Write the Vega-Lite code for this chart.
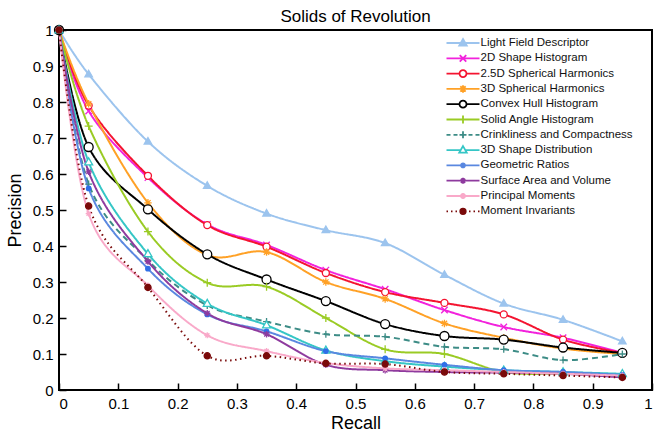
{
  "$schema": "https://vega.github.io/schema/vega-lite/v6.json",
  "width": 593,
  "height": 360,
  "autosize": {"type": "none"},
  "padding": {"left": 59, "top": 30, "right": 5, "bottom": 45},
  "title": {"text": "Solids of Revolution", "fontSize": 17, "fontWeight": "normal", "font": "Liberation Sans", "color": "#000", "offset": -3, "anchor": "middle"},
  "config": {
    "view": {"stroke": "#000", "strokeWidth": 2},
    "font": "Liberation Sans",
    "axis": {"grid": false, "domain": false, "tickColor": "#000", "tickWidth": 1.5, "tickSize": -7, "labelPadding": 13, "labelFontSize": 15, "labelColor": "#000", "titleFontSize": 18, "titleFontWeight": "normal", "titleColor": "#000", "labelFont": "Liberation Sans", "titleFont": "Liberation Sans"}
  },
  "data": {"values": [
    {"series": "Light Field Descriptor", "recall": 0, "precision": 1},
    {"series": "Light Field Descriptor", "recall": 0.05, "precision": 0.877},
    {"series": "Light Field Descriptor", "recall": 0.15, "precision": 0.69},
    {"series": "Light Field Descriptor", "recall": 0.25, "precision": 0.567},
    {"series": "Light Field Descriptor", "recall": 0.35, "precision": 0.49},
    {"series": "Light Field Descriptor", "recall": 0.45, "precision": 0.444},
    {"series": "Light Field Descriptor", "recall": 0.55, "precision": 0.408},
    {"series": "Light Field Descriptor", "recall": 0.65, "precision": 0.32},
    {"series": "Light Field Descriptor", "recall": 0.75, "precision": 0.24},
    {"series": "Light Field Descriptor", "recall": 0.85, "precision": 0.195},
    {"series": "Light Field Descriptor", "recall": 0.95, "precision": 0.135},
    {"series": "2D Shape Histogram", "recall": 0, "precision": 1},
    {"series": "2D Shape Histogram", "recall": 0.05, "precision": 0.775},
    {"series": "2D Shape Histogram", "recall": 0.15, "precision": 0.59},
    {"series": "2D Shape Histogram", "recall": 0.25, "precision": 0.46},
    {"series": "2D Shape Histogram", "recall": 0.35, "precision": 0.403},
    {"series": "2D Shape Histogram", "recall": 0.45, "precision": 0.333},
    {"series": "2D Shape Histogram", "recall": 0.55, "precision": 0.28},
    {"series": "2D Shape Histogram", "recall": 0.65, "precision": 0.222},
    {"series": "2D Shape Histogram", "recall": 0.75, "precision": 0.175},
    {"series": "2D Shape Histogram", "recall": 0.85, "precision": 0.145},
    {"series": "2D Shape Histogram", "recall": 0.95, "precision": 0.103},
    {"series": "2.5D Spherical Harmonics", "recall": 0, "precision": 1},
    {"series": "2.5D Spherical Harmonics", "recall": 0.05, "precision": 0.79},
    {"series": "2.5D Spherical Harmonics", "recall": 0.15, "precision": 0.595},
    {"series": "2.5D Spherical Harmonics", "recall": 0.25, "precision": 0.458},
    {"series": "2.5D Spherical Harmonics", "recall": 0.35, "precision": 0.398},
    {"series": "2.5D Spherical Harmonics", "recall": 0.45, "precision": 0.325},
    {"series": "2.5D Spherical Harmonics", "recall": 0.55, "precision": 0.272},
    {"series": "2.5D Spherical Harmonics", "recall": 0.65, "precision": 0.242},
    {"series": "2.5D Spherical Harmonics", "recall": 0.75, "precision": 0.21},
    {"series": "2.5D Spherical Harmonics", "recall": 0.85, "precision": 0.14},
    {"series": "2.5D Spherical Harmonics", "recall": 0.95, "precision": 0.103},
    {"series": "3D Spherical Harmonics", "recall": 0, "precision": 1},
    {"series": "3D Spherical Harmonics", "recall": 0.05, "precision": 0.795},
    {"series": "3D Spherical Harmonics", "recall": 0.15, "precision": 0.52},
    {"series": "3D Spherical Harmonics", "recall": 0.25, "precision": 0.375},
    {"series": "3D Spherical Harmonics", "recall": 0.35, "precision": 0.383},
    {"series": "3D Spherical Harmonics", "recall": 0.45, "precision": 0.3},
    {"series": "3D Spherical Harmonics", "recall": 0.55, "precision": 0.253},
    {"series": "3D Spherical Harmonics", "recall": 0.65, "precision": 0.185},
    {"series": "3D Spherical Harmonics", "recall": 0.75, "precision": 0.145},
    {"series": "3D Spherical Harmonics", "recall": 0.85, "precision": 0.115},
    {"series": "3D Spherical Harmonics", "recall": 0.95, "precision": 0.1},
    {"series": "Convex Hull Histogram", "recall": 0, "precision": 1},
    {"series": "Convex Hull Histogram", "recall": 0.05, "precision": 0.675},
    {"series": "Convex Hull Histogram", "recall": 0.15, "precision": 0.502},
    {"series": "Convex Hull Histogram", "recall": 0.25, "precision": 0.377},
    {"series": "Convex Hull Histogram", "recall": 0.35, "precision": 0.307},
    {"series": "Convex Hull Histogram", "recall": 0.45, "precision": 0.247},
    {"series": "Convex Hull Histogram", "recall": 0.55, "precision": 0.183},
    {"series": "Convex Hull Histogram", "recall": 0.65, "precision": 0.15},
    {"series": "Convex Hull Histogram", "recall": 0.75, "precision": 0.14},
    {"series": "Convex Hull Histogram", "recall": 0.85, "precision": 0.118},
    {"series": "Convex Hull Histogram", "recall": 0.95, "precision": 0.103},
    {"series": "Solid Angle Histogram", "recall": 0, "precision": 1},
    {"series": "Solid Angle Histogram", "recall": 0.05, "precision": 0.733},
    {"series": "Solid Angle Histogram", "recall": 0.15, "precision": 0.44},
    {"series": "Solid Angle Histogram", "recall": 0.25, "precision": 0.298},
    {"series": "Solid Angle Histogram", "recall": 0.35, "precision": 0.287},
    {"series": "Solid Angle Histogram", "recall": 0.45, "precision": 0.2},
    {"series": "Solid Angle Histogram", "recall": 0.55, "precision": 0.113},
    {"series": "Solid Angle Histogram", "recall": 0.65, "precision": 0.1},
    {"series": "Solid Angle Histogram", "recall": 0.75, "precision": 0.05},
    {"series": "Solid Angle Histogram", "recall": 0.85, "precision": 0.045},
    {"series": "Solid Angle Histogram", "recall": 0.95, "precision": 0.04},
    {"series": "Crinkliness and Compactness", "recall": 0, "precision": 1},
    {"series": "Crinkliness and Compactness", "recall": 0.05, "precision": 0.572},
    {"series": "Crinkliness and Compactness", "recall": 0.15, "precision": 0.36},
    {"series": "Crinkliness and Compactness", "recall": 0.25, "precision": 0.235},
    {"series": "Crinkliness and Compactness", "recall": 0.35, "precision": 0.19},
    {"series": "Crinkliness and Compactness", "recall": 0.45, "precision": 0.155},
    {"series": "Crinkliness and Compactness", "recall": 0.55, "precision": 0.148},
    {"series": "Crinkliness and Compactness", "recall": 0.65, "precision": 0.12},
    {"series": "Crinkliness and Compactness", "recall": 0.75, "precision": 0.113},
    {"series": "Crinkliness and Compactness", "recall": 0.85, "precision": 0.083},
    {"series": "Crinkliness and Compactness", "recall": 0.95, "precision": 0.1},
    {"series": "3D Shape Distribution", "recall": 0, "precision": 1},
    {"series": "3D Shape Distribution", "recall": 0.05, "precision": 0.633},
    {"series": "3D Shape Distribution", "recall": 0.15, "precision": 0.378},
    {"series": "3D Shape Distribution", "recall": 0.25, "precision": 0.24},
    {"series": "3D Shape Distribution", "recall": 0.35, "precision": 0.18},
    {"series": "3D Shape Distribution", "recall": 0.45, "precision": 0.11},
    {"series": "3D Shape Distribution", "recall": 0.55, "precision": 0.08},
    {"series": "3D Shape Distribution", "recall": 0.65, "precision": 0.065},
    {"series": "3D Shape Distribution", "recall": 0.75, "precision": 0.055},
    {"series": "3D Shape Distribution", "recall": 0.85, "precision": 0.05},
    {"series": "3D Shape Distribution", "recall": 0.95, "precision": 0.045},
    {"series": "Geometric Ratios", "recall": 0, "precision": 1},
    {"series": "Geometric Ratios", "recall": 0.05, "precision": 0.56},
    {"series": "Geometric Ratios", "recall": 0.15, "precision": 0.337},
    {"series": "Geometric Ratios", "recall": 0.25, "precision": 0.21},
    {"series": "Geometric Ratios", "recall": 0.35, "precision": 0.163},
    {"series": "Geometric Ratios", "recall": 0.45, "precision": 0.108},
    {"series": "Geometric Ratios", "recall": 0.55, "precision": 0.088},
    {"series": "Geometric Ratios", "recall": 0.65, "precision": 0.07},
    {"series": "Geometric Ratios", "recall": 0.75, "precision": 0.055},
    {"series": "Geometric Ratios", "recall": 0.85, "precision": 0.05},
    {"series": "Geometric Ratios", "recall": 0.95, "precision": 0.042},
    {"series": "Surface Area and Volume", "recall": 0, "precision": 1},
    {"series": "Surface Area and Volume", "recall": 0.05, "precision": 0.606},
    {"series": "Surface Area and Volume", "recall": 0.15, "precision": 0.357},
    {"series": "Surface Area and Volume", "recall": 0.25, "precision": 0.213},
    {"series": "Surface Area and Volume", "recall": 0.35, "precision": 0.155},
    {"series": "Surface Area and Volume", "recall": 0.45, "precision": 0.07},
    {"series": "Surface Area and Volume", "recall": 0.55, "precision": 0.055},
    {"series": "Surface Area and Volume", "recall": 0.65, "precision": 0.05},
    {"series": "Surface Area and Volume", "recall": 0.75, "precision": 0.048},
    {"series": "Surface Area and Volume", "recall": 0.85, "precision": 0.045},
    {"series": "Surface Area and Volume", "recall": 0.95, "precision": 0.035},
    {"series": "Principal Moments", "recall": 0, "precision": 1},
    {"series": "Principal Moments", "recall": 0.05, "precision": 0.49},
    {"series": "Principal Moments", "recall": 0.15, "precision": 0.29},
    {"series": "Principal Moments", "recall": 0.25, "precision": 0.152},
    {"series": "Principal Moments", "recall": 0.35, "precision": 0.108},
    {"series": "Principal Moments", "recall": 0.45, "precision": 0.075},
    {"series": "Principal Moments", "recall": 0.55, "precision": 0.06},
    {"series": "Principal Moments", "recall": 0.65, "precision": 0.055},
    {"series": "Principal Moments", "recall": 0.75, "precision": 0.05},
    {"series": "Principal Moments", "recall": 0.85, "precision": 0.045},
    {"series": "Principal Moments", "recall": 0.95, "precision": 0.04},
    {"series": "Moment Invariants", "recall": 0, "precision": 1},
    {"series": "Moment Invariants", "recall": 0.05, "precision": 0.511},
    {"series": "Moment Invariants", "recall": 0.15, "precision": 0.285},
    {"series": "Moment Invariants", "recall": 0.25, "precision": 0.095},
    {"series": "Moment Invariants", "recall": 0.35, "precision": 0.095},
    {"series": "Moment Invariants", "recall": 0.45, "precision": 0.074},
    {"series": "Moment Invariants", "recall": 0.55, "precision": 0.072},
    {"series": "Moment Invariants", "recall": 0.65, "precision": 0.05},
    {"series": "Moment Invariants", "recall": 0.75, "precision": 0.045},
    {"series": "Moment Invariants", "recall": 0.85, "precision": 0.04},
    {"series": "Moment Invariants", "recall": 0.95, "precision": 0.035}
  ]},
  "encoding": {
    "x": {"field": "recall", "type": "quantitative", "title": "Recall", "scale": {"domain": [0, 1], "nice": false}, "axis": {"values": [0, 0.1, 0.2, 0.3, 0.4, 0.5, 0.6, 0.7, 0.8, 0.9, 1], "format": "~g", "titlePadding": 3}},
    "y": {"field": "precision", "type": "quantitative", "title": "Precision", "scale": {"domain": [0, 1], "nice": false}, "axis": {"values": [0, 0.1, 0.2, 0.3, 0.4, 0.5, 0.6, 0.7, 0.8, 0.9, 1], "format": "~g", "titlePadding": 8}}
  },
  "layer": [
    {
      "mark": {"type": "line", "interpolate": "cardinal"},
      "encoding": {
        "stroke": {"field": "series", "type": "nominal", "legend": null, "scale": {"domain": ["Light Field Descriptor", "2D Shape Histogram", "2.5D Spherical Harmonics", "3D Spherical Harmonics", "Convex Hull Histogram", "Solid Angle Histogram", "Crinkliness and Compactness", "3D Shape Distribution", "Geometric Ratios", "Surface Area and Volume", "Principal Moments", "Moment Invariants"], "range": ["#9cc4ee", "#f222dc", "#f41430", "#ffa126", "#000000", "#9acb24", "#3d8c86", "#35c6c6", "#5a88e0", "#8e3a9e", "#f9a9c9", "#7a0a0a"]}},
        "strokeDash": {"field": "series", "type": "nominal", "legend": null, "scale": {"domain": ["Light Field Descriptor", "2D Shape Histogram", "2.5D Spherical Harmonics", "3D Spherical Harmonics", "Convex Hull Histogram", "Solid Angle Histogram", "Crinkliness and Compactness", "3D Shape Distribution", "Geometric Ratios", "Surface Area and Volume", "Principal Moments", "Moment Invariants"], "range": [[1, 0], [1, 0], [1, 0], [1, 0], [1, 0], [1, 0], [6, 4], [1, 0], [1, 0], [1, 0], [1, 0], [1.5, 3.5]]}},
        "strokeWidth": {"field": "series", "type": "nominal", "legend": null, "scale": {"domain": ["Light Field Descriptor", "2D Shape Histogram", "2.5D Spherical Harmonics", "3D Spherical Harmonics", "Convex Hull Histogram", "Solid Angle Histogram", "Crinkliness and Compactness", "3D Shape Distribution", "Geometric Ratios", "Surface Area and Volume", "Principal Moments", "Moment Invariants"], "range": [2, 2, 2, 2, 2, 2, 1.5, 2, 1.4, 1.4, 1.4, 1.7]}}
      }
    },
    {
      "mark": {"type": "point", "filled": true, "opacity": 1, "size": 100, "strokeWidth": 1.3},
      "encoding": {
        "shape": {"field": "series", "type": "nominal", "legend": null, "scale": {"domain": ["Light Field Descriptor", "2D Shape Histogram", "2.5D Spherical Harmonics", "3D Spherical Harmonics", "Convex Hull Histogram", "Solid Angle Histogram", "Crinkliness and Compactness", "3D Shape Distribution", "Geometric Ratios", "Surface Area and Volume", "Principal Moments", "Moment Invariants"], "range": [
          "M0,-0.8L0.75,0.5L-0.75,0.5Z",
          "M-0.65,-0.65L0.65,0.65M-0.65,0.65L0.65,-0.65",
          "M-0.7,0A0.7,0.7,0,1,0,0.7,0A0.7,0.7,0,1,0,-0.7,0Z",
          "M0,-0.75V0.75M-0.75,0H0.75M-0.53,-0.53L0.53,0.53M-0.53,0.53L0.53,-0.53",
          "M-0.9,0A0.9,0.9,0,1,0,0.9,0A0.9,0.9,0,1,0,-0.9,0Z",
          "M0,-0.8V0.8M-0.8,0H0.8",
          "M0,-0.7V0.7M-0.7,0H0.7",
          "M0,-0.85L0.8,0.55L-0.8,0.55Z",
          "M-0.45,0A0.45,0.45,0,1,0,0.45,0A0.45,0.45,0,1,0,-0.45,0Z",
          "M0,-0.65V0.65M-0.65,0H0.65M-0.46,-0.46L0.46,0.46M-0.46,0.46L0.46,-0.46",
          "M0,-0.6V0.6M-0.6,0H0.6M-0.42,-0.42L0.42,0.42M-0.42,0.42L0.42,-0.42",
          "M-0.62,0A0.62,0.62,0,1,0,0.62,0A0.62,0.62,0,1,0,-0.62,0Z"
        ]}},
        "fill": {"field": "series", "type": "nominal", "legend": null, "scale": {"domain": ["Light Field Descriptor", "2D Shape Histogram", "2.5D Spherical Harmonics", "3D Spherical Harmonics", "Convex Hull Histogram", "Solid Angle Histogram", "Crinkliness and Compactness", "3D Shape Distribution", "Geometric Ratios", "Surface Area and Volume", "Principal Moments", "Moment Invariants"], "range": ["#9cc4ee", "#f222dc", "#ffffff", "#ffa126", "#ffffff", "#9acb24", "#3d8c86", "#ffffff", "#2f6fe8", "#8e3a9e", "#f9a9c9", "#7a0a0a"]}},
        "stroke": {"field": "series", "type": "nominal", "legend": null, "scale": {"domain": ["Light Field Descriptor", "2D Shape Histogram", "2.5D Spherical Harmonics", "3D Spherical Harmonics", "Convex Hull Histogram", "Solid Angle Histogram", "Crinkliness and Compactness", "3D Shape Distribution", "Geometric Ratios", "Surface Area and Volume", "Principal Moments", "Moment Invariants"], "range": ["#9cc4ee", "#f222dc", "#f41430", "#ffa126", "#000000", "#9acb24", "#3d8c86", "#35c6c6", "#2f6fe8", "#8e3a9e", "#f9a9c9", "#7a0a0a"]}}
      }
    },
    {
      "mark": {"type": "point", "filled": true, "opacity": 0, "size": 100},
      "encoding": {
        "shape": {"field": "series", "type": "nominal", "scale": {"domain": ["Light Field Descriptor", "2D Shape Histogram", "2.5D Spherical Harmonics", "3D Spherical Harmonics", "Convex Hull Histogram", "Solid Angle Histogram", "Crinkliness and Compactness", "3D Shape Distribution", "Geometric Ratios", "Surface Area and Volume", "Principal Moments", "Moment Invariants"], "range": [
          "M-3.3,0H3.3M0,-0.8L0.75,0.5L-0.75,0.5Z",
          "M-3.3,0H3.3M-0.65,-0.65L0.65,0.65M-0.65,0.65L0.65,-0.65",
          "M-3.3,0H-0.7M0.7,0H3.3M-0.7,0A0.7,0.7,0,1,0,0.7,0A0.7,0.7,0,1,0,-0.7,0Z",
          "M-3.3,0H3.3M0,-0.75V0.75M-0.53,-0.53L0.53,0.53M-0.53,0.53L0.53,-0.53",
          "M-3.3,0H-0.7M0.7,0H3.3M-0.7,0A0.7,0.7,0,1,0,0.7,0A0.7,0.7,0,1,0,-0.7,0Z",
          "M-3.3,0H3.3M0,-0.8V0.8",
          "M-3.3,0H-2.5M-1.9,0H-1.1M-0.7,0H0.7M1.1,0H1.9M2.5,0H3.3M0,-0.7V0.7",
          "M-3.3,0H-0.5M0.5,0H3.3M0,-0.8L0.75,0.5L-0.75,0.5Z",
          "M-3.3,0H3.3M-0.4,0A0.4,0.4,0,1,0,0.4,0A0.4,0.4,0,1,0,-0.4,0Z",
          "M-3.3,0H3.3M0,-0.6V0.6M-0.42,-0.42L0.42,0.42M-0.42,0.42L0.42,-0.42",
          "M-3.3,0H3.3M0,-0.6V0.6M-0.42,-0.42L0.42,0.42M-0.42,0.42L0.42,-0.42",
          "M-3.3,0H-3.0M-2.4,0H-2.1M-1.5,0H-1.2M1.2,0H1.5M2.1,0H2.4M3.0,0H3.3M-0.55,0A0.55,0.55,0,1,0,0.55,0A0.55,0.55,0,1,0,-0.55,0Z"
        ]}, "legend": {"title": null, "orient": "none", "legendX": 398, "legendY": 7, "padding": 0, "symbolSize": 100, "symbolStrokeWidth": 1.8, "symbolOpacity": 1, "labelOffset": 11.5, "labelFontSize": 11.5, "labelFont": "Liberation Sans", "labelColor": "#111", "rowPadding": -0.7, "gridAlign": "all", "labelLimit": 300}},
        "fill": {"field": "series", "type": "nominal", "scale": {"domain": ["Light Field Descriptor", "2D Shape Histogram", "2.5D Spherical Harmonics", "3D Spherical Harmonics", "Convex Hull Histogram", "Solid Angle Histogram", "Crinkliness and Compactness", "3D Shape Distribution", "Geometric Ratios", "Surface Area and Volume", "Principal Moments", "Moment Invariants"], "range": ["#9cc4ee", "#f222dc", "#ffffff", "#ffa126", "#ffffff", "#9acb24", "#3d8c86", "#ffffff", "#2f6fe8", "#8e3a9e", "#f9a9c9", "#7a0a0a"]}},
        "stroke": {"field": "series", "type": "nominal", "scale": {"domain": ["Light Field Descriptor", "2D Shape Histogram", "2.5D Spherical Harmonics", "3D Spherical Harmonics", "Convex Hull Histogram", "Solid Angle Histogram", "Crinkliness and Compactness", "3D Shape Distribution", "Geometric Ratios", "Surface Area and Volume", "Principal Moments", "Moment Invariants"], "range": ["#9cc4ee", "#f222dc", "#f41430", "#ffa126", "#000000", "#9acb24", "#3d8c86", "#35c6c6", "#5a88e0", "#8e3a9e", "#f9a9c9", "#7a0a0a"]}}
      }
    }
  ],
  "resolve": {"scale": {"shape": "independent", "fill": "independent", "stroke": "independent"}}
}
